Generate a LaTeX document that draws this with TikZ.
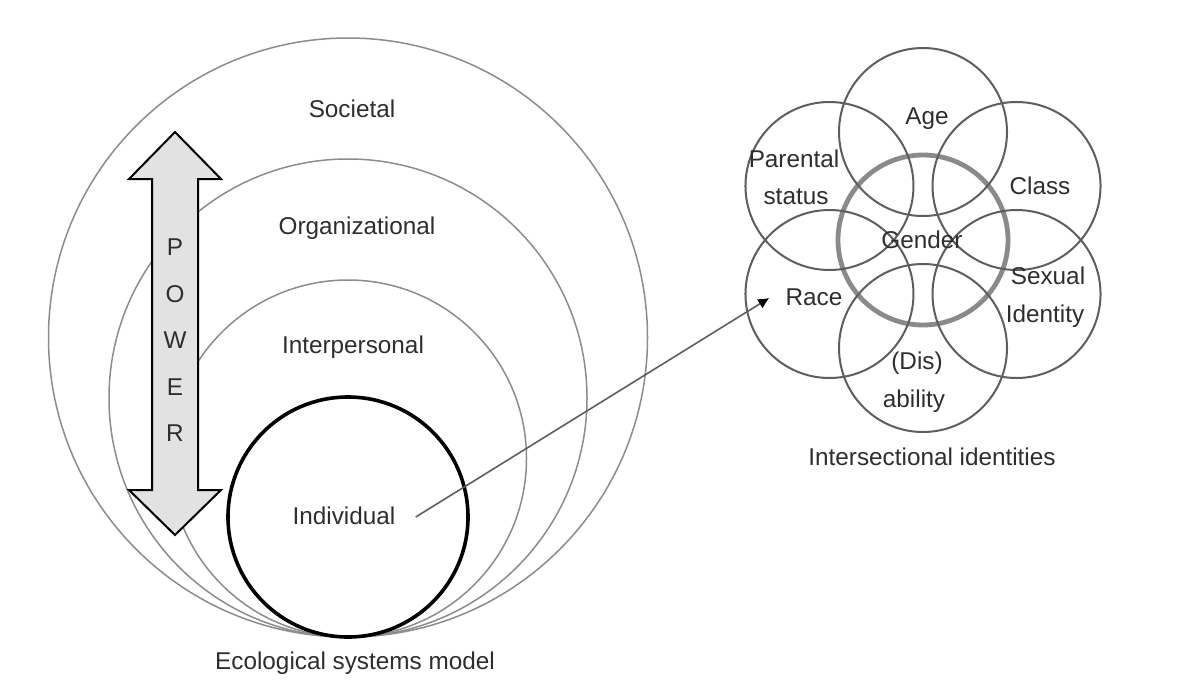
\documentclass[tikz,border=0pt]{standalone}
\usepackage{fontspec}
\setmainfont{Liberation Sans}
\usetikzlibrary{arrows.meta}
\definecolor{ink}{HTML}{2E2E2E}
\definecolor{ringgrey}{HTML}{8C8C8C}
\definecolor{venngrey}{HTML}{5E5E5E}
\definecolor{gendergrey}{HTML}{8A8A8A}
\definecolor{powerfill}{HTML}{E2E2E2}

\begin{document}
\begin{tikzpicture}[x=0.5pt,y=0.5pt,
    lbl/.style={text=ink,font=\fontsize{12.15}{14}\selectfont,text height=0.716em,text depth=0pt,inner sep=0pt},
    ring/.style={draw=ringgrey,line width=0.75pt},
    petal/.style={draw=venngrey,line width=1pt}]
        \useasboundingbox[fill=white] (0,0) rectangle (1199,-691);

         % ecological rings
        \draw[ring] (348,-337.5) circle (299.5);
        \draw[ring] (348,-398) circle (239);
        \draw[ring] (348,-458.5) circle (178.5);
        \draw[black,line width=1.8pt] (348,-517) circle (120);

        \node[lbl] (societal) at (352,-110) {Societal};
        \node[lbl] (organizational) at (357,-227) {Organizational};
        \node[lbl] (interpersonal) at (353,-346) {Interpersonal};
        \node[lbl,inner xsep=10pt] (individual) at (344,-517) {Individual};
        \node[lbl] (ecomodel) at (355,-662) {Ecological systems model};

         % power arrow
        \filldraw[fill=powerfill,draw=black,line width=1pt]
            (175,-132) -- (129,-179) -- (152,-179) -- (152,-490) -- (129,-490)
            -- (175,-535) -- (221,-490) -- (198,-490) -- (198,-179) -- (221,-179) -- cycle;
        \foreach \ltr/\yy [count=\i] in {P/248,O/295,W/341,E/388,R/434}
            \node[lbl] (power\i) at (175,-\yy) {\ltr};

         % intersectional identities
        \draw[draw=gendergrey,line width=2.4pt] (923,-240) circle (85);
        \foreach \ang in {90,30,-30,-90,210,150}
            \draw[petal] (923,-240) ++(\ang:108) circle (84);

        \node[lbl] (gender) at (922,-241) {Gender};
        \node[lbl] (age) at (927,-117) {Age};
        \node[lbl] (class) at (1040,-187) {Class};
        \node[lbl] (parental) at (794,-160) {Parental};
        \node[lbl] (status) at (796,-197) {status};
        \node[lbl] (sexual) at (1048,-277) {Sexual};
        \node[lbl] (identity) at (1045,-315) {Identity};
        \node[lbl,inner xsep=8pt] (race) at (814,-298) {Race};
        \node[lbl] (dis) at (917,-362) {(Dis)};
        \node[lbl] (ability) at (914,-400) {ability};
        \node[lbl] (intersect) at (932,-458) {Intersectional identities};

         % individual -> race
        \draw[draw=venngrey,line width=0.8pt,-{Latex[length=5.5pt,width=5.5pt,color=black]}] (individual.east) -- (race.west);
\end{tikzpicture}
\end{document}
